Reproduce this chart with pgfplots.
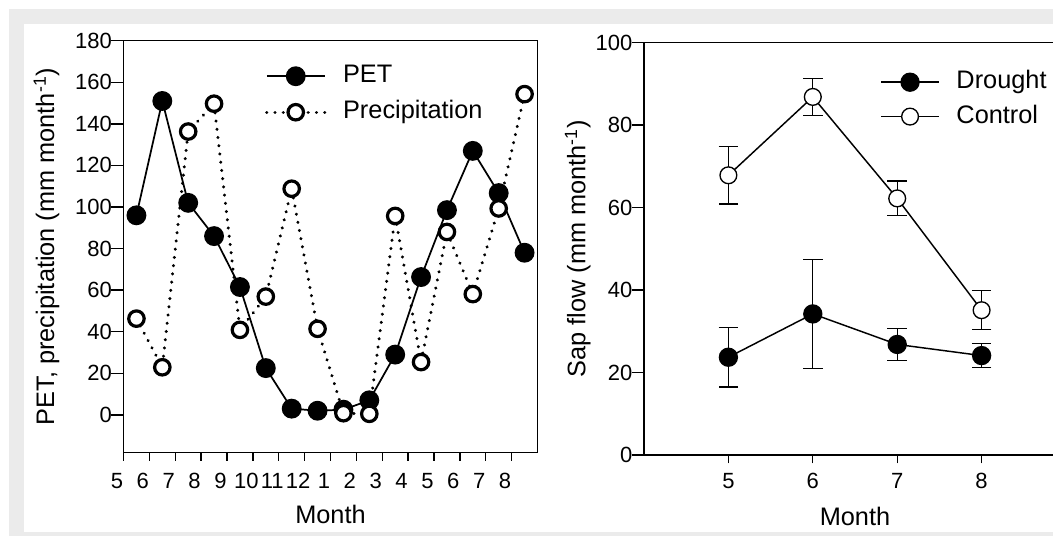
\documentclass[border=0pt]{standalone}
\usepackage{fontspec}
\setmainfont{Liberation Sans}
\usepackage{pgfplots}
\pgfplotsset{compat=1.18}
\definecolor{framegray}{RGB}{235,235,235}

% shared look of both panels (sizes in pt, 1px = 0.75pt)
\pgfplotsset{
  panel/.style={
    scale only axis, anchor=south west, clip=false,
    axis line style={line width=1pt},
    tick align=outside, xtick pos=bottom, ytick pos=left,
    major tick length=9.2pt,
    xtick style={/pgfplots/major tick length=6.2pt, line width=1pt, black},
    ytick style={line width=1pt, black},
    xticklabel style={font=\fontsize{16.5}{18}\selectfont},
    yticklabel style={font=\fontsize{16.5}{18}\selectfont, xshift=4pt},
    label style={font=\fontsize{19}{22}\selectfont},
    /pgf/number format/assume math mode=true,
    legend style={draw=none, fill=none, inner sep=0pt, outer sep=0pt,
      font=\fontsize{19}{22}\selectfont, column sep=12.5pt, row sep=9pt,
      nodes={inner sep=0pt, text height=14pt, text depth=4pt}},
    legend cell align=left,
    legend image code/.code={%
      \draw[mark repeat=2,mark phase=2,#1] plot coordinates {(0pt,0pt) (21.75pt,0pt) (43.5pt,0pt)};},
  },
}

\begin{document}
\begin{tikzpicture}
\useasboundingbox (0,0) rectangle (789.75pt,402pt);
\fill[framegray] (6.75pt,0pt) rectangle (800pt,395.25pt);
\fill[white] (18pt,3pt) rectangle (800pt,384pt);

% left panel: PET and precipitation
\begin{axis}[panel,
  at={(92.625pt,62.625pt)}, width=310.5pt, height=308.85pt,
  xmin=0, xmax=16, ymin=-18.1, ymax=180,
  xtick={0,...,15},
  xticklabels={5,6,7,8,9,10,11,12,1,2,3,4,5,6,7,8},
  xticklabel style={xshift=-4.9pt, yshift=-3pt},
  ytick={0,20,...,180},
  xlabel={Month},
  ylabel={PET, precipitation (mm month\textsuperscript{-1})},
  xlabel style={at={(axis description cs:0.5,-0.1736)}, anchor=base},
  ylabel style={at={(axis description cs:-0.186,0.5)}, anchor=center},
  legend style={at={(axis description cs:0.342,0.870)}, anchor=west},
]
\addplot[black, line width=1.3pt, mark=*, mark size=6.8pt,
  mark options={solid, fill=black}] coordinates {
 (0.5,96) (1.5,151) (2.5,102) (3.5,86) (4.5,61.5) (5.5,22.5) (6.5,3) (7.5,2)
 (8.5,2.5) (9.5,7) (10.5,29) (11.5,66.3) (12.5,98.5) (13.5,127) (14.5,106.7) (15.5,78)};
\addlegendentry{PET}
\addplot[black, line width=2.5pt, line cap=round, dash pattern=on 0.01pt off 6.2pt,
  mark=*, mark size=5.8pt,
  mark options={solid, fill=white, line width=2.4pt}] coordinates {
 (0.5,46.3) (1.5,22.9) (2.5,136.3) (3.5,149.7) (4.5,40.9) (5.5,56.9) (6.5,108.8) (7.5,41.4)
 (8.5,0.8) (9.5,0.5) (10.5,95.7) (11.5,25.4) (12.5,88) (13.5,58.1) (14.5,99.3) (15.5,154.3)};
\addlegendentry{Precipitation}
\end{axis}

% right panel: sap flow
\begin{axis}[panel,
  at={(483pt,60.75pt)}, width=316.5pt, height=309.4pt,
  xmin=4, xmax=9, ymin=0, ymax=100,
  xtick={5,6,7,8}, ytick={0,20,...,100},
  xticklabel style={yshift=-0.8pt},
  xlabel={Month},
  ylabel={Sap flow (mm month\textsuperscript{-1})},
  xlabel style={at={(axis description cs:0.5,-0.172)}, anchor=base},
  ylabel style={at={(axis description cs:-0.157,0.5)}, anchor=center},
  legend style={at={(axis description cs:0.56,0.862)}, anchor=west, row sep=7.8pt},
  error bars/y dir=both, error bars/y explicit,
  error bars/error bar style={line width=1pt, black},
  error bars/error mark options={rotate=90, mark size=7.3pt, line width=1pt, black},
]
\addplot[black, line width=1.1pt, mark=*, mark size=6.7pt,
  mark options={solid, fill=black}] coordinates {
 (5,23.7) +- (0,7.25) (6,34.2) +- (0,13.2) (7,26.8) +- (0,3.85) (8,24.1) +- (0,2.9)};
\addlegendentry{Drought}
\addplot[black, line width=1.1pt, mark=*, mark size=6.3pt,
  mark options={solid, fill=white, line width=1pt}] coordinates {
 (5,67.8) +- (0,6.95) (6,86.8) +- (0,4.5) (7,62.2) +- (0,4.2) (8,35.1) +- (0,4.75)};
\addlegendentry{Control}
\end{axis}
\end{tikzpicture}
\end{document}
